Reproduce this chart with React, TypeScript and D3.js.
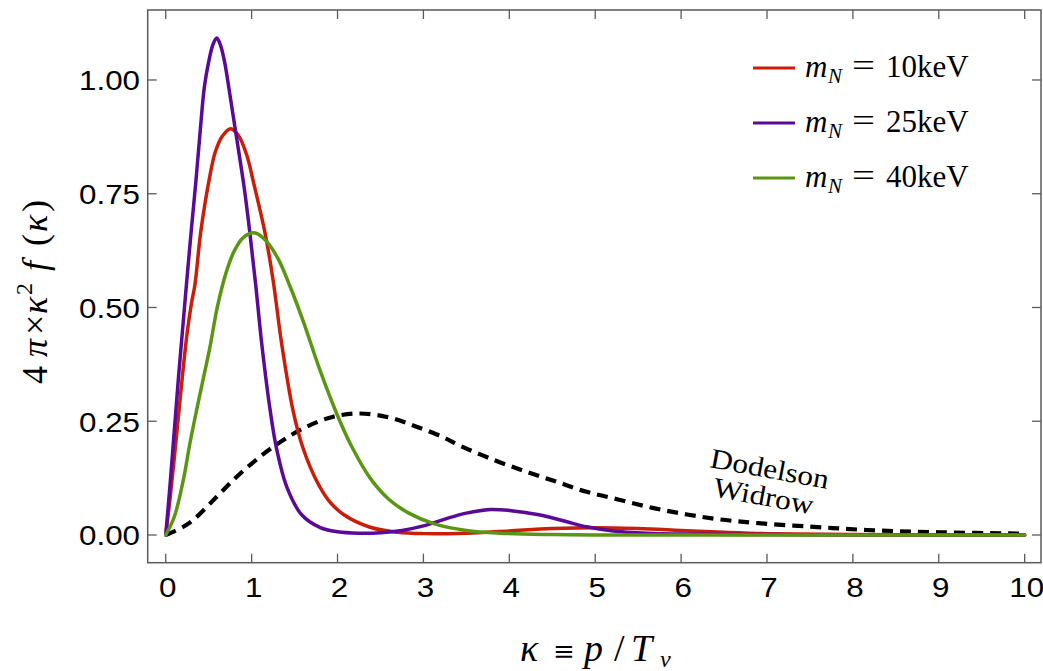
import * as d3 from "d3";

// kappa = p / T_nu, values of 4 pi kappa^2 f(kappa)
const kappa10 = [0, 0.05, 0.1, 0.15, 0.2, 0.25, 0.3, 0.34, 0.4, 0.45, 0.5, 0.574, 0.66, 0.757, 0.85, 0.943, 1.028, 1.157, 1.25, 1.35, 1.486, 1.6, 1.759, 1.9, 2.07, 2.38, 2.7, 3.0, 3.5, 4.0, 4.5, 5.0, 5.5, 6.0, 6.5, 7.0, 8.0, 9.0, 10.0];
const f10 = [0, 0.08, 0.17, 0.265, 0.36, 0.445, 0.51, 0.55, 0.655, 0.72, 0.775, 0.84, 0.877, 0.893, 0.877, 0.835, 0.77, 0.663, 0.56, 0.42, 0.27, 0.19, 0.118, 0.075, 0.045, 0.017, 0.006, 0.003, 0.004, 0.009, 0.014, 0.016, 0.014, 0.01, 0.006, 0.003, 0.001, 0, 0];

const kappa25 = [0, 0.05, 0.1, 0.15, 0.2, 0.25, 0.3, 0.35, 0.4, 0.45, 0.5, 0.55, 0.594, 0.64, 0.69, 0.737, 0.819, 0.916, 0.982, 1.05, 1.118, 1.215, 1.29, 1.41, 1.58, 1.8, 2.0, 2.25, 2.5, 2.75, 3.0, 3.25, 3.5, 3.78, 4.0, 4.36, 4.67, 4.9, 5.21, 5.6, 6.0, 7.0, 8.0, 9.0, 10.0];
const f25 = [0, 0.11, 0.23, 0.35, 0.46, 0.57, 0.675, 0.775, 0.885, 0.985, 1.04, 1.078, 1.092, 1.075, 1.035, 0.98, 0.88, 0.76, 0.66, 0.545, 0.42, 0.275, 0.19, 0.105, 0.045, 0.016, 0.007, 0.004, 0.005, 0.01, 0.02, 0.035, 0.048, 0.056, 0.054, 0.044, 0.029, 0.018, 0.009, 0.004, 0.002, 0.001, 0, 0, 0];

const kappa40 = [0, 0.1, 0.205, 0.28, 0.36, 0.45, 0.516, 0.6, 0.7, 0.8, 0.9, 1.028, 1.15, 1.3, 1.45, 1.6, 1.8, 1.99, 2.15, 2.38, 2.6, 2.83, 3.12, 3.5, 3.89, 4.5, 5.0, 6.0, 7.0, 8.0, 9.0, 10.0];
const f40 = [0, 0.04, 0.121, 0.2, 0.275, 0.355, 0.414, 0.5, 0.575, 0.625, 0.653, 0.664, 0.65, 0.61, 0.545, 0.47, 0.36, 0.267, 0.2, 0.125, 0.078, 0.048, 0.025, 0.01, 0.004, 0.001, 0, 0, 0, 0, 0, 0];

const kappaDW = [0, 0.205, 0.32, 0.594, 0.827, 1.098, 1.37, 1.64, 1.95, 2.26, 2.61, 2.92, 3.23, 3.43, 3.82, 4.2, 4.55, 4.9, 5.29, 5.68, 6.07, 6.46, 6.9, 7.54, 8.16, 9.0, 10.0];
const fDW = [0, 0.018, 0.033, 0.084, 0.128, 0.172, 0.209, 0.238, 0.26, 0.267, 0.258, 0.238, 0.215, 0.196, 0.165, 0.139, 0.117, 0.095, 0.077, 0.059, 0.045, 0.034, 0.026, 0.018, 0.011, 0.006, 0.003];

const xTicks = [0, 1, 2, 3, 4, 5, 6, 7, 8, 9, 10];
const yTicks = [0, 0.25, 0.5, 0.75, 1.0];
const legendLabels = ["10keV", "25keV", "40keV"];
const seriesColors = ["#c81e0a", "#5a0a96", "#5a9614"];

const W = 1043;
const H = 671;
const left = 147.7, right = 1041, top = 10, bottom = 562.7;

export default function App() {
  const x = d3.scaleLinear().domain([-0.21, 10.19]).range([left, right]);
  const y = d3.scaleLinear().domain([-0.0609, 1.1538]).range([bottom, top]);

  const line = d3
    .line<[number, number]>()
    .x((d) => x(d[0]))
    .y((d) => y(d[1]))
    .curve(d3.curveCatmullRom.alpha(0.5));

  const zip = (ks: number[], vs: number[]) => ks.map((k, i) => [k, vs[i]] as [number, number]);
  const series = [zip(kappa10, f10), zip(kappa25, f25), zip(kappa40, f40)];

  const frame = "#5a5a5a";
  const tickLen = 9;
  const tickFont = "'Liberation Sans', Arial, sans-serif";
  const serif = "'Liberation Serif', 'Times New Roman', serif";

  return (
    <svg width={W} height={H} style={{ position: "absolute", left: 0, top: 0 }} xmlns="http://www.w3.org/2000/svg">
      <rect width={W} height={H} fill="white" />
      <defs>
        <clipPath id="plot">
          <rect x={left} y={top} width={right - left} height={bottom - top} />
        </clipPath>
      </defs>

      {/* curves */}
      <g clipPath="url(#plot)" fill="none" strokeLinejoin="round" strokeLinecap="round">
        <path d={line(zip(kappaDW, fDW)) ?? ""} stroke="#000" strokeWidth={4.2} strokeDasharray="11,7" strokeLinecap="butt" />
        {series.map((s, i) => (
          <path key={i} d={line(s) ?? ""} stroke={seriesColors[i]} strokeWidth={3.5} />
        ))}
      </g>

      {/* frame and ticks */}
      <rect x={left} y={top} width={right - left} height={bottom - top} fill="none" stroke={frame} strokeWidth={1.5} />
      {xTicks.map((t) => (
        <g key={"x" + t} stroke={frame} strokeWidth={1.3}>
          <line x1={x(t)} x2={x(t)} y1={bottom} y2={bottom - tickLen} />
          <line x1={x(t)} x2={x(t)} y1={top} y2={top + tickLen} />
        </g>
      ))}
      {yTicks.map((t) => (
        <g key={"y" + t} stroke={frame} strokeWidth={1.3}>
          <line x1={left} x2={left + tickLen} y1={y(t)} y2={y(t)} />
          <line x1={right} x2={right - tickLen} y1={y(t)} y2={y(t)} />
        </g>
      ))}

      {/* tick labels */}
      {xTicks.map((t) => (
        <text key={"xl" + t} transform={`translate(${x(t) + 2},596.7) scale(1.12,1)`} textAnchor="middle" fontFamily={tickFont} fontSize={28} fill="#000">
          {t}
        </text>
      ))}
      {yTicks.map((t) => (
        <text key={"yl" + t} transform={`translate(140,${y(t) + 10.3}) scale(1.12,1)`} textAnchor="end" fontFamily={tickFont} fontSize={28} fill="#000">
          {d3.format(".2f")(t)}
        </text>
      ))}

      {/* legend */}
      {legendLabels.map((lab, i) => {
        const ly = 68 + i * 55;
        const by = ly + 8.7;
        return (
          <g key={"lg" + i}>
            <line x1={753} x2={795} y1={ly} y2={ly} stroke={seriesColors[i]} strokeWidth={3} />
            <text x={805} y={by} fontFamily={serif} fontSize={31} fontStyle="italic" fill="#000">m</text>
            <text x={828} y={by + 6} fontFamily={serif} fontSize={21} fontStyle="italic" fill="#000">N</text>
            <text x={852} y={by - 1} fontFamily={serif} fontSize={31} textLength={23} lengthAdjust="spacingAndGlyphs" fill="#000">=</text>
            <text x={886} y={by} fontFamily={serif} fontSize={31} fill="#000">{lab}</text>
          </g>
        );
      })}

      {/* annotation */}
      <g fontFamily={serif} fontSize={28} fill="#000">
        <text transform="translate(709,467) rotate(10.5) scale(1.12,1)">Dodelson</text>
        <text transform="translate(712,496) rotate(10.5) scale(1.12,1)">Widrow</text>
      </g>

      {/* y axis label */}
      <g transform="translate(47,0) rotate(-90)" fontFamily={serif} fontSize={36} fill="#000">
        <text x={-384}>4</text>
        <text x={-357} fontStyle="italic">π</text>
        <text x={-335}>×</text>
        <text x={-314} fontStyle="italic">κ</text>
        <text x={-295} y={-15} fontSize={24}>2</text>
        <text x={-271} fontStyle="italic">f</text>
        <text x={-246}>(</text>
        <text x={-232} fontStyle="italic">κ</text>
        <text x={-212}>)</text>
      </g>

      {/* x axis label */}
      <g fontFamily={serif} fontSize={38} fill="#000">
        <text x={520} y={661} fontStyle="italic">κ</text>
        <text x={553} y={660} fontFamily="'DejaVu Serif', serif" fontSize={26}>≡</text>
        <text x={584} y={661} fontStyle="italic">p</text>
        <text x={614} y={661}>/</text>
        <text x={631} y={661} fontStyle="italic">T</text>
        <text x={660} y={667} fontSize={24} fontStyle="italic">ν</text>
      </g>
    </svg>
  );
}
